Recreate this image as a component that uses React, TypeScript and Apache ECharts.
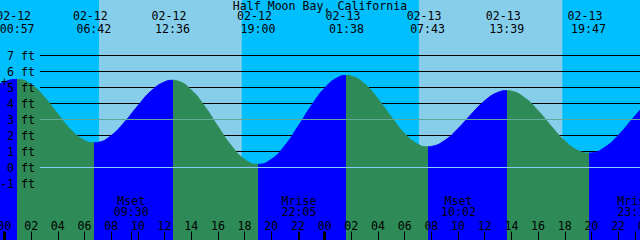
import React, { useEffect, useRef } from 'react';
import * as echarts from 'echarts';

// ---------- data ----------
const chartTitle = 'Half Moon Bay, California';
const firstDay = 12; // 02-12 00:00 is hour 0

// tide extremes (high / low)
const eventDates = ['02-12', '02-12', '02-12', '02-12', '02-13', '02-13', '02-13', '02-13'];
const eventClocks = ['00:57', '06:42', '12:36', '19:00', '01:38', '07:43', '13:39', '19:47'];
const eventFeet = [5.5, 1.55, 5.45, 0.2, 5.75, 1.3, 4.8, 0.9];

// hourly tide heights (ft), from hour -1 to hour 48
const hourlyStart = -1;
const hourlyFeet = [
  4.9, 5.35, 5.5, 5.18, 4.39, 3.34, 2.34, 1.69, 1.57, 2.0,
  2.84, 3.86, 4.79, 5.35, 5.4, 4.85, 3.83, 2.57, 1.37, 0.51,
  0.2, 0.51, 1.35, 2.56, 3.86, 4.96, 5.63, 5.71, 5.22, 4.28,
  3.15, 2.12, 1.45, 1.32, 1.69, 2.43, 3.34, 4.17, 4.7, 4.77,
  4.35, 3.55, 2.57, 1.66, 1.06, 0.91, 1.26, 2.0, 2.97, 3.92,
];

// sun (rise, set, rise, set)
const sunDates = ['02-12', '02-12', '02-13', '02-13'];
const sunClocks = ['07:05', '17:47', '07:04', '17:49'];

// moon events
const moonNames = ['Mset', 'Mrise', 'Mset', 'Mrise'];
const moonDates = ['02-12', '02-12', '02-13', '02-13'];
const moonClocks = ['09:30', '22:05', '10:02', '23:15'];

// axis values
const footLevels = [-1, 0, 1, 2, 3, 4, 5, 6, 7];
const datumFeet = 0;
const mslFeet = 3;
const midnightHours = [0, 24, 48];

// ---------- styles / layout ----------
const FONT = "'DejaVu Sans Mono', 'Liberation Mono', monospace";
const FS = 11.6;
const NIGHT = '#00bfff';
const DAY = '#87ceeb';
const EBB = '#2e8b57';
const FLOOD = '#0000ff';
const DATUM_COLOR = '#87cefa';
const MSL_COLOR = '#5fa89c';
const lineStartHour = 2.66;

const toHour = (date: string, clock: string) => {
  const day = parseInt(date.slice(3), 10) - firstDay;
  const [hh, mm] = clock.split(':').map((s) => parseInt(s, 10));
  return day * 24 + hh + mm / 60;
};

export default function App() {
  const ref = useRef<HTMLDivElement>(null);

  useEffect(() => {
    if (!ref.current) return;
    const chart = echarts.init(ref.current, undefined, { renderer: 'svg' });

    const eventHours = eventDates.map((d, i) => toHour(d, eventClocks[i]));
    const isHigh = eventFeet.map((f, i) =>
      i + 1 < eventFeet.length ? f > eventFeet[i + 1] : f > eventFeet[i - 1]
    );

    // tide series points
    const pts: number[][] = [];
    hourlyFeet.forEach((f, i) => {
      const h = hourlyStart + i;
      if (eventHours.some((e) => Math.abs(e - h) < 0.1)) return;
      pts.push([h, f]);
    });
    eventHours.forEach((h, i) => pts.push([h, eventFeet[i]]));
    pts.sort((a, b) => a[0] - b[0]);

    // ebb / flood pieces
    const pieces: any[] = [];
    pieces.push({ lt: eventHours[0], color: isHigh[0] ? FLOOD : EBB });
    eventHours.forEach((h, i) => {
      const color = isHigh[i] ? EBB : FLOOD;
      if (i + 1 < eventHours.length) pieces.push({ gte: h, lt: eventHours[i + 1], color });
      else pieces.push({ gte: h, color });
    });

    const sunHours = sunDates.map((d, i) => toHour(d, sunClocks[i]));
    const dayBands: any[] = [];
    for (let i = 0; i + 1 < sunHours.length; i += 2) {
      dayBands.push([
        { xAxis: sunHours[i], itemStyle: { color: DAY, opacity: 1 } },
        { xAxis: sunHours[i + 1] },
      ]);
    }

    const blackLines = footLevels.map((f) => [
      { coord: [lineStartHour, f] },
      { coord: [48, f] },
    ]);

    const moonHours = moonDates.map((d, i) => toHour(d, moonClocks[i]));

    const overLines: any[] = [
      [
        { coord: [lineStartHour, datumFeet], lineStyle: { color: DATUM_COLOR, width: 1, type: 'solid' } },
        { coord: [48, datumFeet] },
      ],
      [
        { coord: [lineStartHour, mslFeet], lineStyle: { color: MSL_COLOR, width: 1, type: 'solid' } },
        { coord: [48, mslFeet] },
      ],
      ...midnightHours.map((h) => [
        { coord: [h, -4], lineStyle: { color: '#000', width: 3, type: 'solid' } },
        { coord: [h, -5] },
      ]),
      ...moonHours.map((h) => [
        { coord: [h, -4], lineStyle: { color: '#000', width: 1, type: 'solid' } },
        { coord: [h, -5] },
      ]),
    ];

    const txt = (coord: number[], text: string, offset: number[] = [0, 0]) => ({
      coord,
      symbol: 'circle',
      symbolSize: 1,
      itemStyle: { color: 'rgba(0,0,0,0)' },
      label: { formatter: text, offset },
    });

    const points: any[] = [];
    eventHours.forEach((h, i) => {
      points.push(txt([h, 9.45], eventDates[i], [-3.5, 0]));
      points.push(txt([h, 8.68], eventClocks[i]));
    });
    moonHours.forEach((h, i) => {
      points.push(txt([h, -2.1], moonNames[i]));
      points.push(txt([h, -2.81], moonClocks[i]));
    });
    // "+" mark on the curve at hour 0
    points.push(txt([0, hourlyFeet[0 - hourlyStart]], '+'));

    const textStyle = { color: '#000', fontFamily: FONT, fontSize: FS, lineHeight: 10 };

    const option: any = {
      animation: false,
      backgroundColor: NIGHT,
      title: {
        text: chartTitle,
        left: 'center',
        top: 0.5,
        padding: 0,
        textStyle: { ...textStyle, fontWeight: 'normal' },
      },
      grid: {
        left: -22.2,
        right: -4.8,
        top: -8.5,
        bottom: -7.5,
        containLabel: false,
        outerBoundsMode: 'none',
      },
      xAxis: {
        type: 'value',
        min: -2,
        max: 48,
        interval: 2,
        position: 'bottom',
        z: 10,
        axisLine: { show: false, onZero: false },
        splitLine: { show: false },
        axisTick: { show: true, inside: true, length: 16, lineStyle: { color: '#000', width: 1 } },
        axisLabel: {
          ...textStyle,
          inside: true,
          margin: 22,
          verticalAlign: 'middle',
          showMinLabel: true,
          showMaxLabel: true,
          formatter: (v: number) => String((((v % 24) + 24) % 24)).padStart(2, '0'),
        },
      },
      yAxis: {
        type: 'value',
        min: -5,
        max: 11,
        interval: 1,
        z: 10,
        axisLine: { show: false, onZero: false },
        axisTick: { show: false },
        splitLine: { show: false },
        axisLabel: {
          ...textStyle,
          inside: true,
          margin: 57.2,
          align: 'right',
          verticalAlign: 'middle',
          showMinLabel: true,
          showMaxLabel: true,
          formatter: (v: number) => (v >= -1 && v <= 7 ? `${v} ft` : ''),
        },
      },
      visualMap: {
        type: 'piecewise',
        show: false,
        dimension: 0,
        seriesIndex: 0,
        pieces,
      },
      series: [
        {
          type: 'line',
          data: pts,
          z: 3,
          smooth: 0.5,
          showSymbol: false,
          silent: true,
          lineStyle: { width: 1 },
          areaStyle: { opacity: 1, origin: 'start' },
        },
        {
          type: 'line',
          data: pts,
          z: 1,
          showSymbol: false,
          silent: true,
          lineStyle: { opacity: 0 },
          markArea: { silent: true, z: 1, data: dayBands },
          markLine: {
            silent: true,
            z: 2,
            symbol: ['none', 'none'],
            label: { show: false },
            lineStyle: { color: '#000', width: 1, type: 'solid' },
            emphasis: { disabled: true },
            data: blackLines,
          },
        },
        {
          type: 'line',
          data: pts,
          z: 5,
          showSymbol: false,
          silent: true,
          lineStyle: { opacity: 0 },
          markLine: {
            silent: true,
            z: 5,
            symbol: ['none', 'none'],
            label: { show: false },
            emphasis: { disabled: true },
            data: overLines,
          },
          markPoint: {
            silent: true,
            z: 10,
            label: { show: true, position: 'inside', ...textStyle },
            data: points,
          },
        },
      ],
    };

    chart.setOption(option);
    return () => chart.dispose();
  }, []);

  return (
    <div
      ref={ref}
      style={{ position: 'fixed', left: 0, top: 0, width: 640, height: 240 }}
    />
  );
}
